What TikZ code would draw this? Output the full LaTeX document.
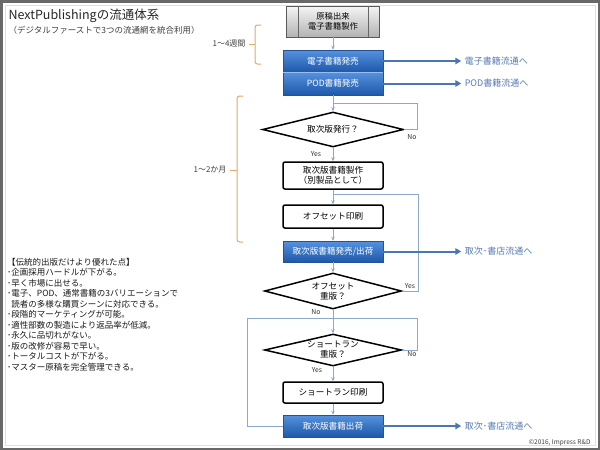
\documentclass[tikz,border=0pt]{standalone}
\usepackage{fontspec}
\setmainfont{Noto Sans CJK JP}
\usepackage{xcolor}
\usetikzlibrary{shapes.geometric, arrows.meta, positioning, calc, shadows}
\definecolor{nptop}{RGB}{86,146,222}
\definecolor{npbot}{RGB}{30,88,170}
\definecolor{npedge}{RGB}{38,82,145}
\definecolor{npline}{RGB}{140,168,204}
\definecolor{nparrow}{RGB}{74,118,178}
\definecolor{nptext}{RGB}{88,124,176}
\definecolor{npbrace}{RGB}{228,168,104}
\definecolor{npframe}{RGB}{105,105,105}

\begin{document}
\begin{tikzpicture}[
    x=1pt, y=-1pt,
    srcbox/.style={rectangle, draw=black!65, line width=0.8pt, top color=black!4, bottom color=black!30, minimum width=93pt, minimum height=31pt, inner sep=1pt, align=center, font=\fontsize{8.3}{9.8}\selectfont},
    bluebox/.style={rectangle, draw=npedge, line width=0.5pt, top color=nptop, bottom color=npbot, text=white, minimum width=100pt, minimum height=22pt, inner sep=1pt, font=\fontsize{8.6}{9.5}\selectfont, drop shadow={opacity=0.25, shadow xshift=0.8pt, shadow yshift=-1.2pt}},
    whitebox/.style={rectangle, draw=black, line width=1.5pt, fill=white, rounded corners=2pt, minimum width=100pt, minimum height=22pt, inner sep=1pt, align=center, font=\fontsize{8.6}{10}\selectfont},
    question/.style={diamond, draw=black, line width=1.5pt, fill=white, aspect=4, minimum width=137pt, minimum height=34pt, inner sep=0pt, align=center, font=\fontsize{8.6}{10}\selectfont},
    flow/.style={-{Stealth[length=4pt, width=3.5pt]}, npline, line width=0.8pt},
    loop/.style={npline, line width=0.8pt},
    outarrow/.style={-{Triangle[length=6pt, width=6.5pt]}, nparrow, line width=2pt},
    outlabel/.style={anchor=west, text=nptext, font=\fontsize{9}{10}\selectfont},
    answer/.style={text=black!80, font=\fontsize{6.8}{7}\selectfont, inner sep=0pt},
    span/.style={npbrace, line width=1pt, rounded corners=2.5pt},
    spanlabel/.style={anchor=east, text=black!75, font=\fontsize{8}{9}\selectfont}
]

\fill[white, use as bounding box] (0,0) rectangle (600,450);
\draw[black!12, line width=0.6pt] (5,5) rectangle (595,445);
\draw[npframe, line width=5pt] (0,0) rectangle (600,450);

\node[anchor=west, text=black!85, font=\fontsize{12.5}{14}\selectfont] (title) at (5,16) {NextPublishingの流通体系};
\node[anchor=west, text=black!75, font=\fontsize{8.5}{10}\selectfont] (subtitle) at (5,30) {（デジタルファーストで3つの流通網を統合利用）};

\node[srcbox] (src) at (333,21.5) {原稿出来\\電子書籍製作};
\draw[black!60] ($(src.north west)+(12,0)$) -- ($(src.south west)+(12,0)$);
\draw[black!60] ($(src.north east)+(-12,0)$) -- ($(src.south east)+(-12,0)$);

\node[bluebox] (ebook) at (333,61) {電子書籍発売};
\node[bluebox, minimum height=23pt] (pod) at (333,83.5) {POD書籍発売};
\draw[nptop!60!white, line width=0.6pt] (ebook.south west) -- (ebook.south east);

\node[question, minimum width=141pt, minimum height=35pt] (q1) at (333,129.5) {取次版発行？};
\node[whitebox, minimum height=27pt] (mfg) at (333,175.5) {取次版書籍製作\\（別製品として）};
\node[whitebox, minimum height=23pt] (offset) at (333,216.5) {オフセット印刷};
\node[bluebox, minimum height=21pt] (sell) at (333,251.5) {取次版書籍発売/出荷};
\node[question, minimum height=36pt] (q2) at (333,291) {オフセット\\重版？};
\node[question, minimum height=32pt] (q3) at (333,350) {ショートラン\\重版？};
\node[whitebox, minimum height=21pt] (short) at (333,392.5) {ショートラン印刷};
\node[bluebox] (ship) at (333,426) {取次版書籍出荷};

\coordinate (q1turn) at (417,103);
\coordinate (q2turn) at (418,194);
\coordinate (q3turn) at (417,318);
\coordinate (q3back) at (247,318);

\draw[loop] (q1.east) -| (q1turn) -- (q1turn -| pod.south);
\draw[loop] (q2.east) -| (q2turn) -- (q2turn -| mfg.south);
\draw[loop] (q3.east) -| (q3turn) -- (q3back) |- (ship.west);

\draw[flow] (src) -- (ebook);
\draw[flow] (pod) -- (q1);
\draw[flow] (q1) -- (mfg);
\draw[flow] (mfg) -- (offset);
\draw[flow] (offset) -- (sell);
\draw[flow] (sell) -- (q2);
\draw[flow] (q2) -- (q3);
\draw[flow] (q3) -- (short);
\draw[flow] (short) -- (ship);

\node[answer] (q1no) at (412,137) {No};
\node[answer] (q1yes) at (316,154) {Yes};
\node[answer] (q2yes) at (410,286) {Yes};
\node[answer] (q2no) at (316,312) {No};
\node[answer] (q3no) at (412,354) {No};
\node[answer] (q3yes) at (317,370) {Yes};

\node[outlabel, right=78pt of ebook] (ebookto) {電子書籍流通へ};
\node[outlabel, right=78pt of pod] (podto) {POD書籍流通へ};
\node[outlabel, right=78pt of sell] (sellto) {取次･書店流通へ};
\node[outlabel, right=78pt of ship] (shipto) {取次･書店流通へ};

\draw[outarrow] (ebook) -- (ebookto);
\draw[outarrow] (pod) -- (podto);
\draw[outarrow] (sell) -- (sellto);
\draw[outarrow] (ship) -- (shipto);

\coordinate (week) at (255,44);
\coordinate (month) at (237,170);
\draw[span] (261,25) -- (255,25) -- (255,64) -- (261,64);
\draw[npbrace, line width=1pt] (week) -- ++(-6,0);
\node[spanlabel] (weeklabel) at (249,44) {1～4週間};
\draw[span] (243,96) -- (237,96) -- (237,242) -- (243,242);
\draw[npbrace, line width=1pt] (month) -- ++(-7,0);
\node[spanlabel] (monthlabel) at (230,170) {1～2か月};

\node[anchor=north west, align=left, inner sep=0pt, text=black!90, font=\fontsize{8.5}{10.5}\selectfont] (merits) at (7,258) {%
【伝統的出版だけより優れた点】\\
･企画採用ハードルが下がる。\\
･早く市場に出せる。\\
･電子、POD、通常書籍の3バリエーションで\\
\phantom{･}読者の多様な購買シーンに対応できる。\\
･段階的マーケティングが可能。\\
･適性部数の製造により返品率が低減。\\
･永久に品切れがない。\\
･版の改修が容易で早い。\\
･トータルコストが下がる。\\
･マスター原稿を完全管理できる。};

\node[anchor=east, text=black!75, font=\fontsize{6.5}{7}\selectfont] (credit) at (594,443) {©2016, Impress R\&D};

\end{tikzpicture}
\end{document}
